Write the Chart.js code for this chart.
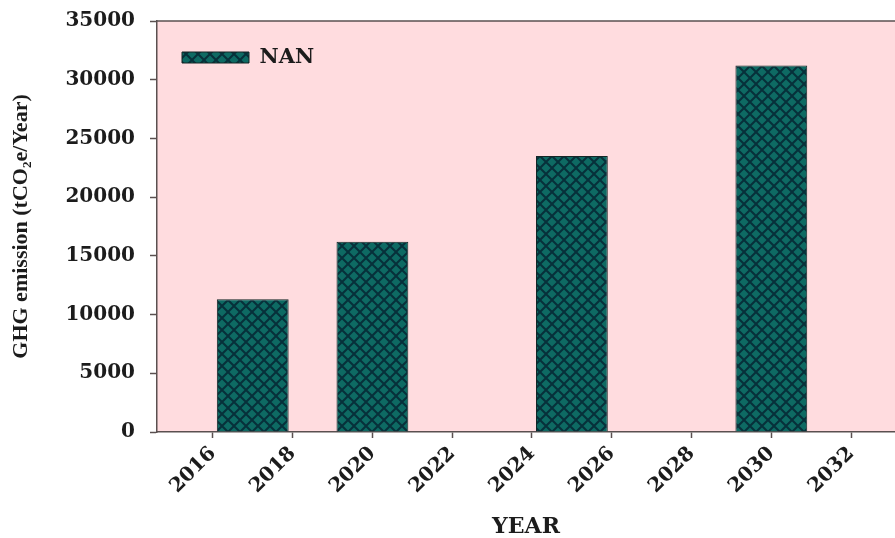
<!DOCTYPE html>
<html>
<head>
<meta charset="utf-8">
<title>GHG emission by year</title>
<script src="https://cdn.jsdelivr.net/npm/chart.js@4.4.1/dist/chart.umd.min.js"></script>
<style>
  html, body { margin: 0; padding: 0; background: #ffffff; }
  #wrap { width: 895px; height: 538px; position: relative; }
</style>
</head>
<body>
<div id="wrap"><canvas id="chart" width="895" height="538"></canvas></div>
<script>
// Emission estimates per target year
const seriesName = 'NAN';
const years = [2017, 2020, 2025, 2030];
const emissions = [11300, 16200, 23500, 31200];

// Axis ticks
const yearTicks = [2016, 2018, 2020, 2022, 2024, 2026, 2028, 2030, 2032];
const emissionTicks = [0, 5000, 10000, 15000, 20000, 25000, 30000, 35000];

// Cross-hatched teal fill for the bars
function makeHatch() {
  const tile = document.createElement('canvas');
  tile.width = 12;
  tile.height = 12;
  const c = tile.getContext('2d');
  c.fillStyle = '#0e6a63';
  c.fillRect(0, 0, 12, 12);
  c.strokeStyle = '#07303a';
  c.lineWidth = 2;
  c.beginPath();
  c.moveTo(-1, -1); c.lineTo(13, 13);
  c.moveTo(13, -1); c.lineTo(-1, 13);
  c.stroke();
  return c.createPattern(tile, 'repeat');
}

const ctx = document.getElementById('chart').getContext('2d');
const hatch = makeHatch();

// Pink plot area and the frame line along its top
const plotFrame = {
  id: 'plotFrame',
  beforeDraw(chart) {
    const { ctx, chartArea: a } = chart;
    ctx.save();
    ctx.fillStyle = '#ffdcdf';
    ctx.fillRect(a.left, a.top, a.right - a.left, a.bottom - a.top);
    ctx.restore();
  },
  afterDraw(chart) {
    const { ctx, chartArea: a } = chart;
    ctx.save();
    ctx.strokeStyle = '#5a5050';
    ctx.lineWidth = 1.5;
    ctx.beginPath();
    ctx.moveTo(a.left, a.top);
    ctx.lineTo(a.right, a.top);
    ctx.stroke();
    ctx.restore();
  }
};

const tickFont = { family: '"DejaVu Serif", serif', size: 20, weight: 'bold' };
const textColor = '#1c1c1c';
const axisColor = '#5a5050';

new Chart(ctx, {
  type: 'bar',
  data: {
    datasets: [{
      label: seriesName,
      data: years.map((y, i) => ({ x: y, y: emissions[i] })),
      backgroundColor: hatch,
      borderColor: '#142626',
      borderWidth: 1,
      categoryPercentage: 1.0,
      barPercentage: 0.9
    }]
  },
  options: {
    responsive: false,
    animation: false,
    layout: { padding: { left: 8, top: 21, right: 0, bottom: 0 } },
    plugins: {
      legend: {
        position: 'chartArea',
        align: 'start',
        // blank title row used as top spacing for the legend entry
        title: {
          display: true,
          text: '',
          padding: 0,
          font: { size: 22, lineHeight: 1 }
        },
        labels: {
          boxWidth: 67,
          boxHeight: 11,
          padding: 25,
          color: textColor,
          font: { family: '"DejaVu Serif", serif', size: 21, weight: 'bold' }
        }
      },
      tooltip: { enabled: false }
    },
    scales: {
      x: {
        type: 'linear',
        min: 2014.6,
        max: 2033.1,
        offset: false,
        afterBuildTicks(scale) {
          scale.ticks = yearTicks.map(v => ({ value: v }));
        },
        afterFit(scale) { scale.height = 106; },
        grid: {
          offset: false,
          drawOnChartArea: false,
          drawTicks: true,
          tickLength: 6,
          tickColor: axisColor,
          tickWidth: 1.5
        },
        border: { display: true, color: axisColor, width: 1.5 },
        ticks: {
          autoSkip: false,
          minRotation: 45,
          maxRotation: 45,
          padding: 4,
          color: textColor,
          font: tickFont,
          callback: v => String(v)
        },
        title: {
          display: true,
          text: 'YEAR',
          color: textColor,
          padding: { top: 0, bottom: 0 },
          font: { family: '"DejaVu Serif", serif', size: 22, weight: 'bold', lineHeight: 1.0 }
        }
      },
      y: {
        min: 0,
        max: 35000,
        afterBuildTicks(scale) {
          scale.ticks = emissionTicks.map(v => ({ value: v }));
        },
        afterFit(scale) {
          scale.width = 149;
          scale.paddingTop = 10;
        },
        grid: {
          drawOnChartArea: false,
          drawTicks: true,
          tickLength: 7,
          tickColor: axisColor,
          tickWidth: 1.5
        },
        border: { display: true, color: axisColor, width: 1.5 },
        ticks: {
          padding: 15,
          color: textColor,
          font: tickFont,
          callback: v => String(v)
        },
        title: {
          display: true,
          text: 'GHG emission (tCO₂e/Year)',
          color: textColor,
          padding: { top: 0, bottom: 0 },
          font: { family: '"Liberation Serif", serif', size: 22, weight: 'bold', lineHeight: 1.2 }
        }
      }
    }
  },
  plugins: [plotFrame]
});
</script>
</body>
</html>
